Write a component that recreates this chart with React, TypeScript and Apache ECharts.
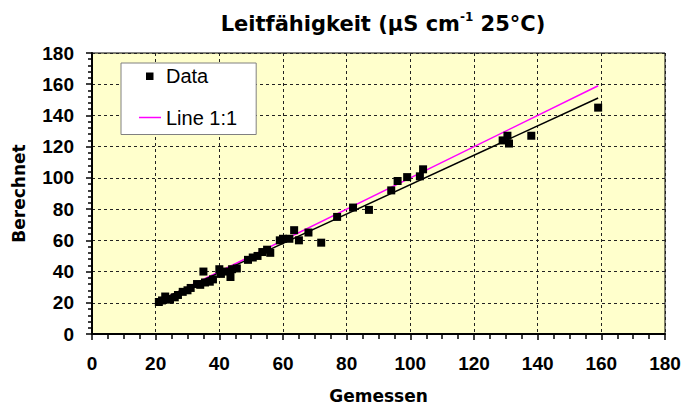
import React, { useEffect, useRef } from "react";
import * as echarts from "echarts";

const titleText = "Leitfähigkeit (µS cm";
const xName = "Gemessen";
const yName = "Berechnet";
const legendNames = ["Data", "Line 1:1"];

const measured = [21, 22, 23, 24.5, 26, 27, 28.5, 30, 31, 33, 34, 35, 35.5, 37, 38, 40, 40.5, 42, 43.5, 44, 45.5, 49, 50.5, 52, 53.5, 55, 56, 59, 60, 62, 63.5, 65, 68, 72, 77, 82, 87, 94, 96, 99, 103, 104, 129, 130.5, 131, 138, 159];
const calculated = [20.5, 21.5, 24, 22, 23.5, 25, 27, 28, 29.5, 32, 31.5, 40, 33, 33.5, 35, 41.5, 38.5, 40, 36.5, 41.5, 42, 47.5, 49, 50, 52.5, 54, 52, 60, 61, 61, 66.5, 60, 65, 58.5, 75, 81, 79.5, 92, 98, 100.5, 101, 105.5, 124, 127, 122, 127, 145];

const oneToOneX = [21, 159];
const oneToOneY = [21, 159];
const fitX = [21, 159];
const fitY = [21.4, 151.2];

export default function App() {
  const ref = useRef<HTMLDivElement>(null);
  useEffect(() => {
    if (!ref.current) return;
    const chart = echarts.init(ref.current, null, { renderer: "svg" });
    const font = "'Liberation Sans', Arial, sans-serif";
    const wide = "'DejaVu Sans', sans-serif";
    const axisLabel = { color: "#000", fontFamily: font, fontWeight: "bold", fontSize: 19 };
    const nameStyle = { color: "#000", fontFamily: wide, fontWeight: "bold", fontSize: 17 };
    chart.setOption({
      animation: false,
      backgroundColor: "#fff",
      title: {
        text: "{b|" + titleText + "}{sup|-1}{b| 25°C)}",
        left: 378,
        textAlign: "center",
        top: 6,
        textStyle: {
          rich: {
            b: { fontFamily: wide, fontWeight: "bold", fontSize: 21, color: "#000", lineHeight: 26 },
            sup: { fontFamily: wide, fontWeight: "bold", fontSize: 12, color: "#000", verticalAlign: "top", lineHeight: 26, padding: [0, 0, 12, 0] },
          },
        },
      },
      legend: {
        orient: "vertical",
        left: 121,
        top: 63,
        padding: [2, 19, 6, 18],
        itemGap: 19.5,
        itemWidth: 22,
        itemHeight: 8,
        backgroundColor: "#fff",
        borderColor: "#808080",
        borderWidth: 1,
        textStyle: { fontFamily: font, fontSize: 20, color: "#000", lineHeight: 22 },
        data: [
          { name: legendNames[0], icon: "path://M0,0M22,8M7,0.5h7.5v7.5h-7.5z", itemStyle: { color: "#000", opacity: 1 } },
          { name: legendNames[1], icon: "path://M0,0M22,8M0,3.25h22v1.5h-22z" },
        ],
      },
      grid: {
        left: 92,
        right: 20,
        top: 53,
        bottom: 78,
        show: true,
        backgroundColor: "#FFFFCC",
        borderColor: "#000",
        borderWidth: 1,
      },
      xAxis: {
        type: "value",
        min: 0,
        max: 180,
        interval: 20,
        name: xName,
        nameLocation: "middle",
        nameGap: 53,
        nameTextStyle: nameStyle,
        axisLine: { show: true, lineStyle: { color: "#000", width: 2 } },
        axisTick: { show: true, inside: false, length: 6, lineStyle: { color: "#000", width: 1.5 } },
        minorTick: { show: true, splitNumber: 4, length: 5, lineStyle: { color: "#000", width: 1.5 } },
        axisLabel: { ...axisLabel, margin: 20 },
        splitLine: { show: true, lineStyle: { color: "#222", type: [3, 3], width: 1 } },
      },
      yAxis: {
        type: "value",
        min: 0,
        max: 180,
        interval: 20,
        name: yName,
        nameLocation: "middle",
        nameGap: 65,
        nameRotate: 90,
        nameTextStyle: nameStyle,
        axisLine: { show: true, lineStyle: { color: "#000", width: 2 } },
        axisTick: { show: true, inside: false, length: 6, lineStyle: { color: "#000", width: 1.5 } },
        minorTick: { show: true, splitNumber: 5, length: 4, lineStyle: { color: "#000", width: 1.5 } },
        axisLabel: { ...axisLabel, margin: 18 },
        splitLine: { show: true, lineStyle: { color: "#222", type: [3, 3], width: 1 } },
      },
      series: [
        {
          name: legendNames[1],
          type: "line",
          symbol: "none",
          z: 2,
          lineStyle: { color: "#FF00FF", width: 1.5 },
          itemStyle: { color: "#FF00FF" },
          data: oneToOneX.map((x, i) => [x, oneToOneY[i]]),
        },
        {
          name: "Fit",
          type: "line",
          symbol: "none",
          z: 2,
          lineStyle: { color: "#000", width: 1.5 },
          itemStyle: { color: "#000" },
          data: fitX.map((x, i) => [x, fitY[i]]),
        },
        {
          name: legendNames[0],
          type: "scatter",
          symbol: "rect",
          symbolSize: 8,
          z: 3,
          itemStyle: { color: "#000", opacity: 1 },
          data: measured.map((x, i) => [x, calculated[i]]),
        },
      ],
    });
    return () => chart.dispose();
  }, []);
  return <div ref={ref} style={{ width: 685, height: 412, position: "absolute", left: 0, top: 0 }} />;
}
